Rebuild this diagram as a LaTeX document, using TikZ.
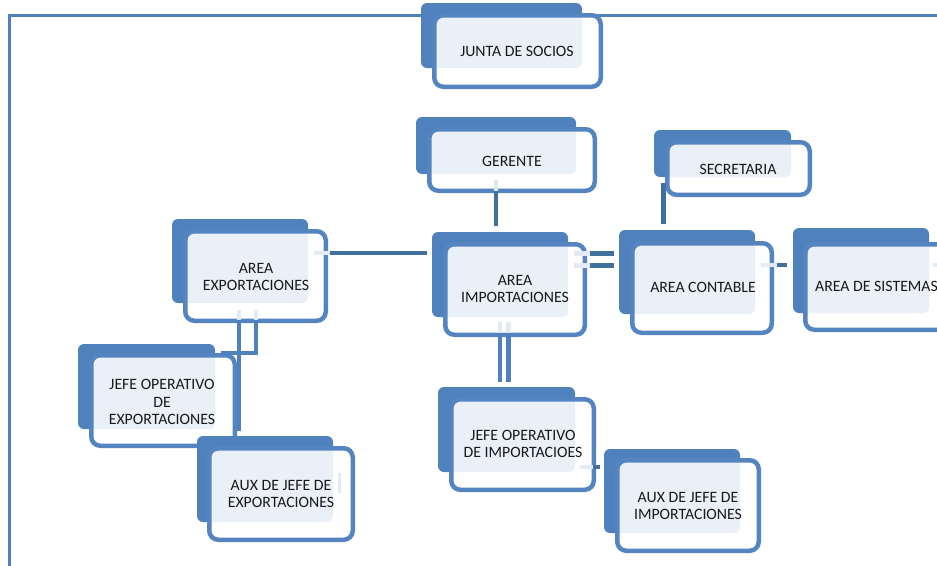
\documentclass[tikz,border=0pt]{standalone}
\usepackage{fontspec}
\setmainfont{Carlito}
\definecolor{backblue}{HTML}{4F81BD}
\definecolor{frontblue}{HTML}{5585C0}
\definecolor{lightfill}{HTML}{EAF0F8}
\definecolor{conblue}{HTML}{41709F}
\definecolor{stub}{HTML}{E3EAF3}
\newcommand{\obox}[8]{%
  \fill[backblue, rounded corners=6] (#1,#2) rectangle (#3,#4);
  \fill[white, rounded corners=9] (#5+2.25,#6+2.25) rectangle (#7-2.25,#8-2.25);
  \begin{scope}
    \clip[rounded corners=9] (#5+2.25,#6+2.25) rectangle (#7-2.25,#8-2.25);
    \fill[lightfill, rounded corners=6] (#1,#2) rectangle (#3,#4);
  \end{scope}
  \draw[frontblue, line width=4.5, rounded corners=9] (#5+2.25,#6+2.25) rectangle (#7-2.25,#8-2.25);
}
\tikzset{
  lbl/.style={inner sep=0, align=center, font=\fontsize{15.8}{17.5}\selectfont, text=black!90},
  con/.style={conblue, line width=4.6},
  stubline/.style={stub, line width=4.6},
  frame/.style={backblue, line width=3}
}
\begin{document}
\begin{tikzpicture}[x=1pt, y=-1pt]
\clip (0,0) rectangle (937,565);
\useasboundingbox (0,0) rectangle (937,565);
\fill[white] (0,0) rectangle (937,565);
% frame
\coordinate (fr-bl) at (9,566);
\coordinate (fr-tl) at (9,15);
\coordinate (fr-tr) at (940,15);
\draw[frame] (fr-bl) -- (fr-tl) -- (fr-tr);
% boxes
\obox{421}{3}{582}{68}{432}{13}{603}{89}
\node[lbl] (js) at (517,51) {JUNTA DE SOCIOS};
\obox{416}{117}{576}{174}{427}{127}{597}{193}
\node[lbl] (ger) at (512,161) {GERENTE};
\obox{654}{130}{791}{177}{665}{140}{812}{197}
\node[lbl] (sec) at (738,169) {SECRETARIA};
\obox{172}{219}{308}{303}{183}{229}{328}{323}
\node[lbl] (aexp) at (256,277) {AREA\\EXPORTACIONES};
\obox{432}{232}{568}{317}{443}{242}{587}{337}
\node[lbl] (aimp) at (515,289) {AREA\\IMPORTACIONES};
\obox{619}{230}{755}{314}{630}{241}{774}{335}
\node[lbl] (acon) at (703,287) {AREA CONTABLE};
\obox{793}{228}{929}{313}{803}{242}{950}{332}
\node[lbl, anchor=west] (asis) at (815,286) {AREA DE SISTEMAS};
\obox{78}{344}{215}{429}{89}{353}{237}{448}
\node[lbl] (joexp) at (162,402) {JEFE OPERATIVO\\DE\\EXPORTACIONES};
\obox{197}{436}{333}{522}{207}{446}{355}{542}
\node[lbl] (auxexp) at (281,494) {AUX DE JEFE DE\\EXPORTACIONES};
\obox{438}{387}{575}{472}{449}{397}{596}{492}
\node[lbl] (joimp) at (523,444) {JEFE OPERATIVO\\DE IMPORTACIOES};
\obox{604}{449}{740}{533}{615}{458}{761}{553}
\node[lbl] (auximp) at (688,506) {AUX DE JEFE DE\\IMPORTACIONES};
% connector end points
\coordinate (ger-s0) at (496,180);
\coordinate (ger-s) at (496,191);
\coordinate (aimp-n) at (496,226);
\coordinate (sec-s) at (663.5,183);
\coordinate (acon-n) at (663.5,224);
\coordinate (aexp-e0) at (314,253);
\coordinate (aexp-e) at (330,253);
\coordinate (aimp-w) at (427,253);
\coordinate (aimp-e0a) at (574,253.3);
\coordinate (aimp-ea) at (590,253.3);
\coordinate (acon-wa) at (613.5,253.3);
\coordinate (aimp-e0b) at (574,265.7);
\coordinate (aimp-eb) at (590,265.7);
\coordinate (acon-wb) at (613.5,265.7);
\coordinate (acon-e0) at (761,265);
\coordinate (acon-e) at (777,265);
\coordinate (asis-w) at (787,265);
\coordinate (asis-e0) at (933,265);
\coordinate (asis-e) at (940,265);
\coordinate (aexp-s1a) at (256,310);
\coordinate (aexp-s1) at (256,320);
\coordinate (bend1) at (256,353);
\coordinate (joexp-e) at (221,353);
\coordinate (aexp-s2a) at (239,310);
\coordinate (aexp-s2) at (239,320);
\coordinate (auxexp-n) at (239,431);
\coordinate (auxexp-s0) at (339.5,473);
\coordinate (auxexp-s1) at (339.5,493);
\coordinate (aimp-s0a) at (500,322);
\coordinate (aimp-sa) at (500,333);
\coordinate (joimp-na) at (500,382);
\coordinate (aimp-s0b) at (508.5,322);
\coordinate (aimp-sb) at (508.5,333);
\coordinate (joimp-nb) at (508.5,382);
\coordinate (joimp-e0) at (580,467);
\coordinate (joimp-e) at (593,467);
\coordinate (auximp-w) at (600,467);
% light stubs
\draw[stubline] (ger-s0) -- (ger-s);
\draw[stubline] (aexp-e0) -- (aexp-e);
\draw[stubline] (aimp-e0a) -- (aimp-ea);
\draw[stubline] (aimp-e0b) -- (aimp-eb);
\draw[stubline] (acon-e0) -- (acon-e);
\draw[stubline] (asis-e0) -- (asis-e);
\draw[stubline] (aexp-s1a) -- (aexp-s1);
\draw[stubline] (aexp-s2a) -- (aexp-s2);
\draw[stubline, line width=3.5] (auxexp-s0) -- (auxexp-s1);
\draw[stubline] (aimp-s0a) -- (aimp-sa);
\draw[stubline] (aimp-s0b) -- (aimp-sb);
\draw[stubline] (joimp-e0) -- (joimp-e);
% connectors
\draw[con] (ger-s) -- (aimp-n);
\draw[con] (sec-s) -- (acon-n);
\draw[con] (aexp-e) -- (aimp-w);
\draw[con] (aimp-ea) -- (acon-wa);
\draw[con] (aimp-eb) -- (acon-wb);
\draw[con] (acon-e) -- (asis-w);
\draw[con, backblue] (aexp-s1) -- (bend1) -- (joexp-e);
\draw[con, backblue] (aexp-s2) -- (auxexp-n);
\draw[con, backblue] (aimp-sa) -- (joimp-na);
\draw[con, backblue] (aimp-sb) -- (joimp-nb);
\draw[con] (joimp-e) -- (auximp-w);
\end{tikzpicture}
\end{document}
